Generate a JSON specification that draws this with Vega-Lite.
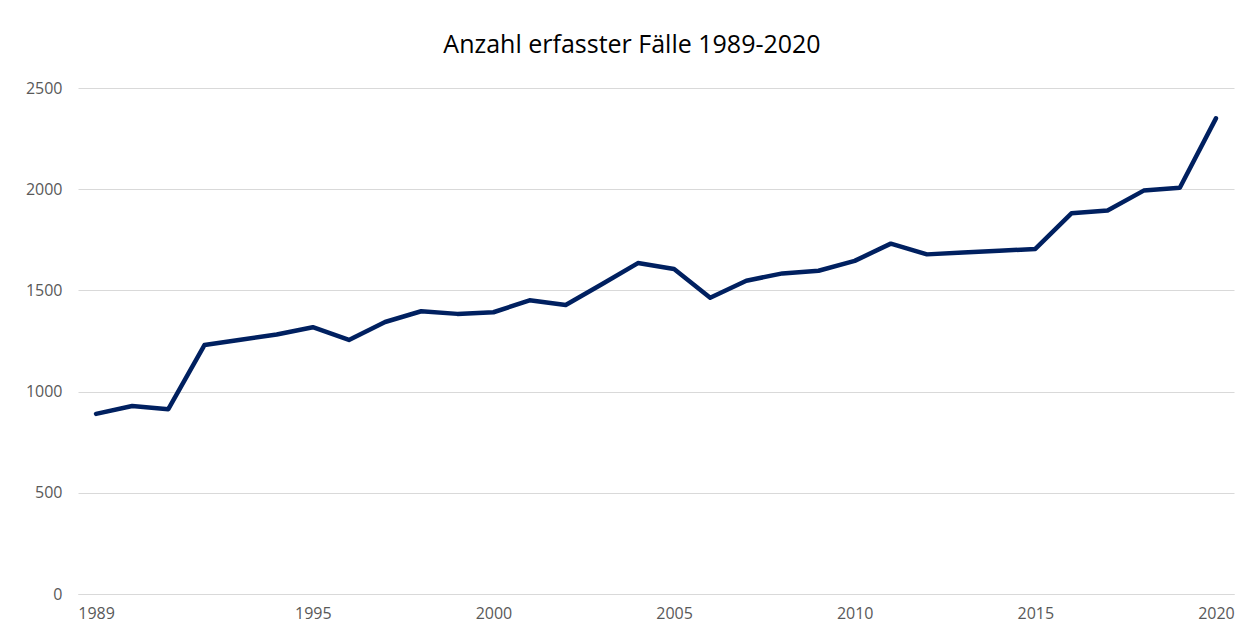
{
  "$schema": "https://vega.github.io/schema/vega-lite/v6.json",
  "width": 1156,
  "height": 506,
  "autosize": {"type": "none"},
  "padding": {"left": 78, "top": 88, "right": 10, "bottom": 43},
  "background": "white",
  "title": {
    "text": "Anzahl erfasster Fälle 1989-2020",
    "font": "Open Sans",
    "fontSize": 25,
    "fontWeight": "normal",
    "color": "#000000",
    "anchor": "middle",
    "frame": "group",
    "dx": -24,
    "offset": 22
  },
  "data": {
    "values": [
      {"Jahr": 1989, "Faelle": 890},
      {"Jahr": 1990, "Faelle": 929},
      {"Jahr": 1991, "Faelle": 913},
      {"Jahr": 1992, "Faelle": 1230},
      {"Jahr": 1993, "Faelle": 1256},
      {"Jahr": 1994, "Faelle": 1282},
      {"Jahr": 1995, "Faelle": 1318},
      {"Jahr": 1996, "Faelle": 1255},
      {"Jahr": 1997, "Faelle": 1344},
      {"Jahr": 1998, "Faelle": 1397},
      {"Jahr": 1999, "Faelle": 1384},
      {"Jahr": 2000, "Faelle": 1392},
      {"Jahr": 2001, "Faelle": 1451},
      {"Jahr": 2002, "Faelle": 1428},
      {"Jahr": 2003, "Faelle": 1530},
      {"Jahr": 2004, "Faelle": 1635},
      {"Jahr": 2005, "Faelle": 1606},
      {"Jahr": 2006, "Faelle": 1464},
      {"Jahr": 2007, "Faelle": 1548},
      {"Jahr": 2008, "Faelle": 1584},
      {"Jahr": 2009, "Faelle": 1597},
      {"Jahr": 2010, "Faelle": 1646},
      {"Jahr": 2011, "Faelle": 1731},
      {"Jahr": 2012, "Faelle": 1678},
      {"Jahr": 2013, "Faelle": 1687},
      {"Jahr": 2014, "Faelle": 1696},
      {"Jahr": 2015, "Faelle": 1705},
      {"Jahr": 2016, "Faelle": 1881},
      {"Jahr": 2017, "Faelle": 1895},
      {"Jahr": 2018, "Faelle": 1993},
      {"Jahr": 2019, "Faelle": 2007},
      {"Jahr": 2020, "Faelle": 2350}
    ]
  },
  "mark": {"type": "line", "color": "#002060", "strokeWidth": 4.5, "strokeJoin": "round", "strokeCap": "round"},
  "encoding": {
    "x": {
      "field": "Jahr",
      "type": "quantitative",
      "scale": {"domain": [1988.5, 2020.5], "nice": false, "zero": false},
      "axis": {
        "title": null,
        "values": [1989, 1995, 2000, 2005, 2010, 2015, 2020],
        "format": "d",
        "grid": false,
        "ticks": false,
        "domain": true,
        "domainColor": "#d9d9d9",
        "domainWidth": 1,
        "labelFont": "Open Sans",
        "labelFontSize": 16,
        "labelColor": "#595959",
        "labelPadding": 11
      }
    },
    "y": {
      "field": "Faelle",
      "type": "quantitative",
      "scale": {"domain": [0, 2500], "nice": false},
      "axis": {
        "title": null,
        "values": [0, 500, 1000, 1500, 2000, 2500],
        "format": "d",
        "grid": true,
        "gridColor": "#d9d9d9",
        "gridWidth": 1,
        "ticks": false,
        "domain": false,
        "labelFont": "Open Sans",
        "labelFontSize": 16,
        "labelColor": "#595959",
        "labelPadding": 16
      }
    }
  },
  "config": {
    "view": {"stroke": null}
  }
}
